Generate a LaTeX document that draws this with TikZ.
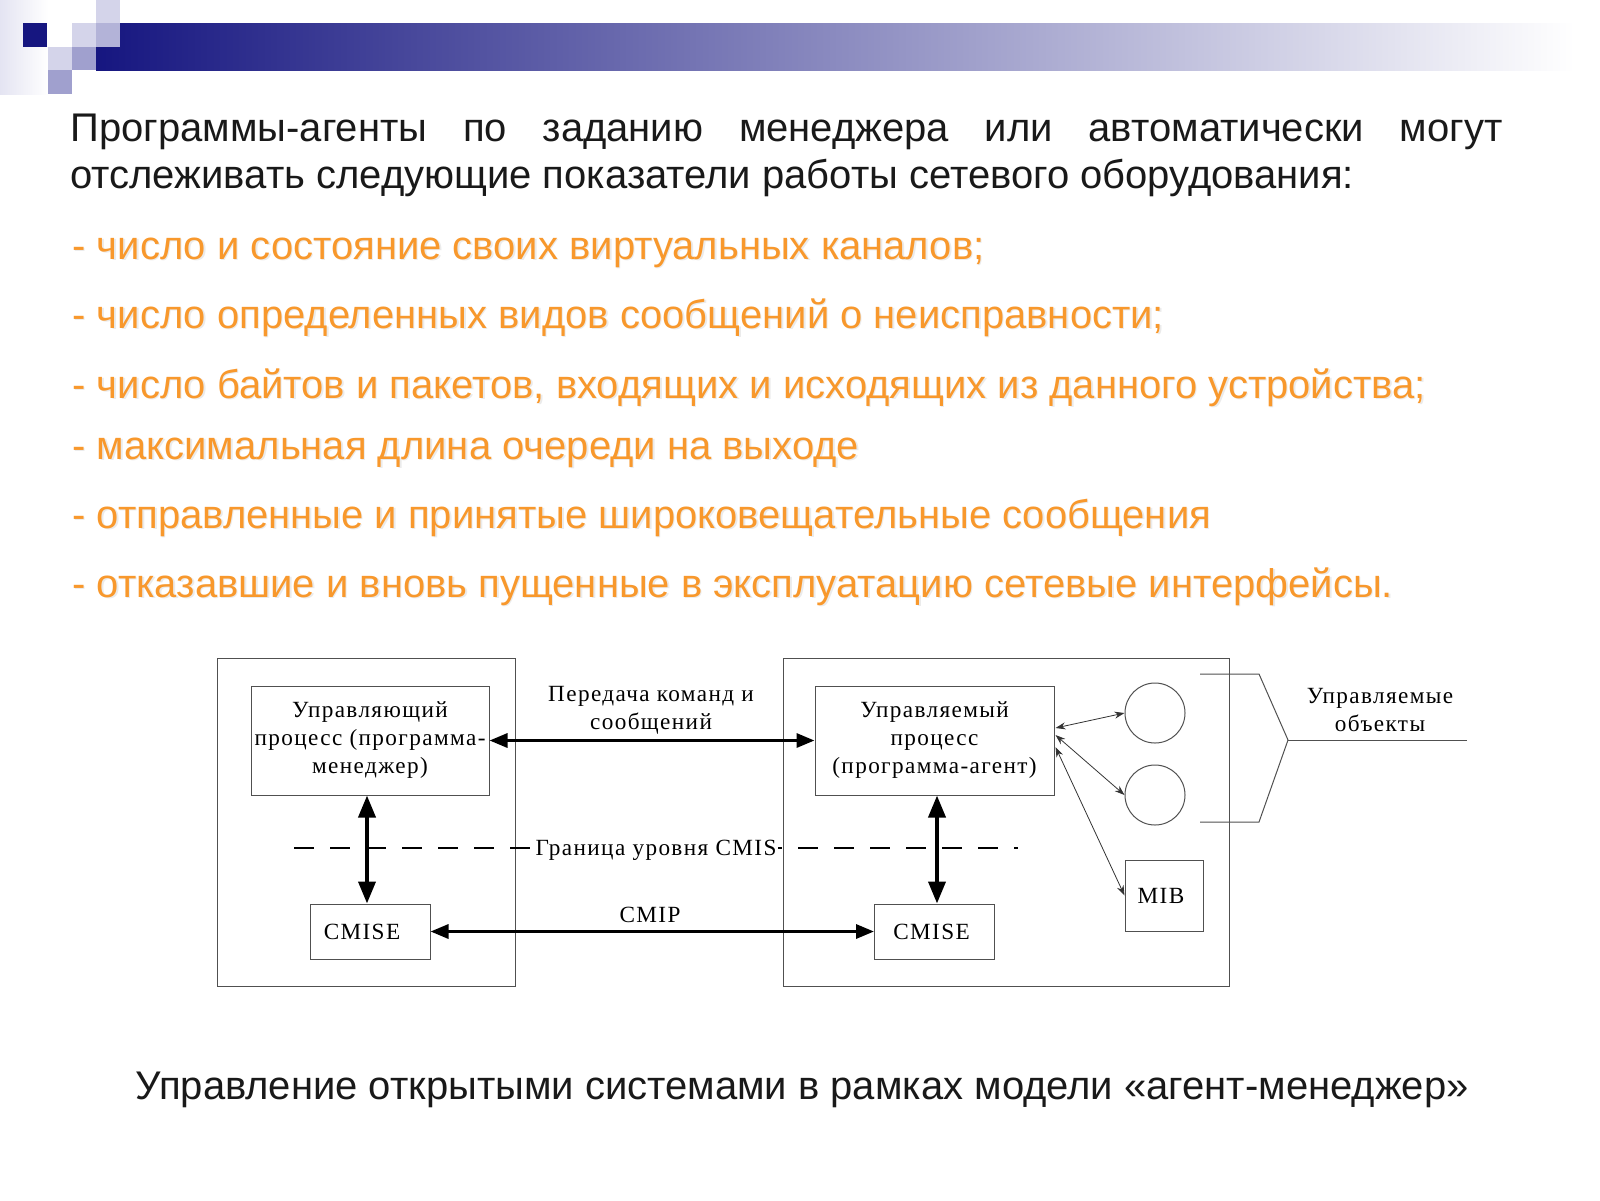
\documentclass[tikz,border=0pt]{standalone}
\usepackage{fontspec}
\setmainfont{Liberation Sans}
\newfontfamily\dfont[LetterSpace=6]{Liberation Serif}
\usetikzlibrary{arrows.meta,calc}
\definecolor{navy}{RGB}{22,22,128}
\definecolor{lav0}{RGB}{228,228,242}
\definecolor{lav1}{RGB}{212,212,234}
\definecolor{lav2}{RGB}{160,160,206}
\definecolor{orng}{RGB}{248,152,44}
\definecolor{lncol}{RGB}{80,80,80}
\newcommand\oline[3]{%
  \node[bulletshadow] at ($(72,#2)+(1.5,1.5)$) {#3};
  \node[bulletline] (#1) at (72,#2) {#3};}
\begin{document}
\begin{tikzpicture}[x=0.5pt,y=-0.5pt,
  titletext/.style={anchor=base west,inner sep=0,font=\fontsize{20pt}{24pt}\selectfont,text=black!90},
  bulletline/.style={anchor=base west,inner sep=0,font=\fontsize{20pt}{24pt}\selectfont,text=orng},
  bulletshadow/.style={anchor=base west,inner sep=0,font=\fontsize{20pt}{24pt}\selectfont,text=black!8},
  captext/.style={anchor=base,inner sep=0,font=\fontsize{20pt}{24pt}\selectfont,text=black!90},
  dfontst/.style={font=\dfont\fontsize{11.6pt}{14pt}\selectfont,align=center},
  boxst/.style={draw=lncol,line width=0.5pt,dfontst,inner sep=0pt},
  outerst/.style={draw=lncol,line width=0.5pt,inner sep=0pt},
  circst/.style={draw=lncol,line width=0.5pt,circle,minimum size=30pt,inner sep=0pt},
  bigarrow/.style={line width=1.6pt,{Triangle[length=9pt,width=7pt]}-{Triangle[length=9pt,width=7pt]}},
  vertarrow/.style={line width=1.9pt,{Triangle[length=11pt,width=8.5pt]}-{Triangle[length=11pt,width=8.5pt]}},
  thinarrow/.style={line width=0.4pt,draw=black!80,{Stealth[length=5pt,width=3.5pt]}-{Stealth[length=5pt,width=3.5pt]}},
  bnddash/.style={line width=1pt,dash pattern=on 10pt off 8pt},
  thinline/.style={draw=lncol,line width=0.5pt}]
\useasboundingbox (0,0) rectangle (1600,1200);
% header decoration
\shade[left color=lav0,right color=white] (0,0) rectangle (48,94);
\shade[left color=navy,right color=white] (96,23) rectangle (1575,70);
\fill[navy] (23,23) rectangle (47,47);
\fill[lav1] (72,23) rectangle (96,47);
\fill[lav1] (96,0) rectangle (120,23);
\fill[lav2!80] (96,23) rectangle (120,47);
\fill[lav1] (48,47) rectangle (72,70);
\fill[lav2] (72,47) rectangle (96,70);
\fill[lav2] (48,70) rectangle (72,94);
% title
\node[titletext] (t1) at (70,141) {\makebox[716pt][s]{Программы-агенты по заданию менеджера или автоматически могут}};
\node[titletext] (t2) at (70,188) {отслеживать следующие показатели работы сетевого оборудования:};
% orange lines
\oline{b1}{259}{- число и состояние своих виртуальных каналов;}
\oline{b2}{328}{- число определенных видов сообщений о неисправности;}
\oline{b3}{398}{- число байтов и пакетов, входящих и исходящих из данного устройства;}
\oline{b4}{459}{- максимальная длина очереди на выходе}
\oline{b5}{528}{- отправленные и принятые широковещательные сообщения}
\oline{b6}{597}{- отказавшие и вновь пущенные в эксплуатацию сетевые интерфейсы.}
% caption
\node[captext] (cap) at (802,1099) {Управление открытыми системами в рамках модели «агент-менеджер»};
% diagram
\node[outerst,minimum width=149pt,minimum height=164pt] (outL) at (366,822) {};
\node[outerst,minimum width=223pt,minimum height=164pt] (outR) at (1006,822) {};
\node[boxst,minimum width=119pt,minimum height=54.5pt] (mgr) at (370,740.5) {Управляющий\\процесс (программа-\\менеджер)};
\node[boxst,minimum width=119.5pt,minimum height=54.5pt] (agt) at (934.5,740.5) {Управляемый\\процесс\\(программа-агент)};
\node[boxst,minimum width=60pt,minimum height=27.5pt] (cmL) at (370,931.5) {\hspace*{-8pt}CMISE};
\node[boxst,minimum width=60pt,minimum height=27.5pt] (cmR) at (934.5,931.5) {\hspace*{-3pt}CMISE};
\node[boxst,minimum width=39pt,minimum height=35.5pt] (mib) at (1164,895.5) {\hspace*{-3pt}MIB};
\node[circst] (c1) at (1155,713) {};
\node[circst] (c2) at (1155,795) {};
% boundary
\coordinate (dL) at (294,848);
\coordinate (dR) at (1018,848);
\draw[bnddash] (dL) -- (dR);
\node[dfontst,fill=white,inner xsep=1pt,inner ysep=2pt] (bnd) at (656,850) {Граница уровня CMIS};
% arrows
\draw[bigarrow] (mgr.east) -- (agt.west);
\node[dfontst] (lblcmd) at (651,710) {Передача команд и\\сообщений};
\draw[bigarrow] (cmL.east) -- (cmR.west);
\node[dfontst] (lblcmip) at (650,915) {CMIP};
\draw[vertarrow] ($(mgr.south)+(-3,0)$) -- ($(cmL.north)+(-3,0)$);
\draw[vertarrow] ($(agt.south)+(2.5,0)$) -- ($(cmR.north)+(2.5,0)$);
\draw[thinarrow] ($(agt.east)+(1,-12.5)$) -- (c1.west);
\draw[thinarrow] ($(agt.east)+(1,-5.5)$) -- (c2.west);
\draw[thinarrow] ($(agt.east)+(1,6.5)$) -- (mib.west);
% managed objects bracket
\coordinate (brT) at (1200,674);
\coordinate (brB) at (1200,822);
\coordinate (brTip) at (1288,740);
\coordinate (brEnd) at (1467,740);
\draw[thinline] (brT) -- (1259,674) -- (brTip) -- (1259,822) -- (brB);
\draw[thinline] (brTip) -- (brEnd);
\node[dfontst] (objs) at (1380,710) {Управляемые\\объекты};
\end{tikzpicture}
\end{document}
